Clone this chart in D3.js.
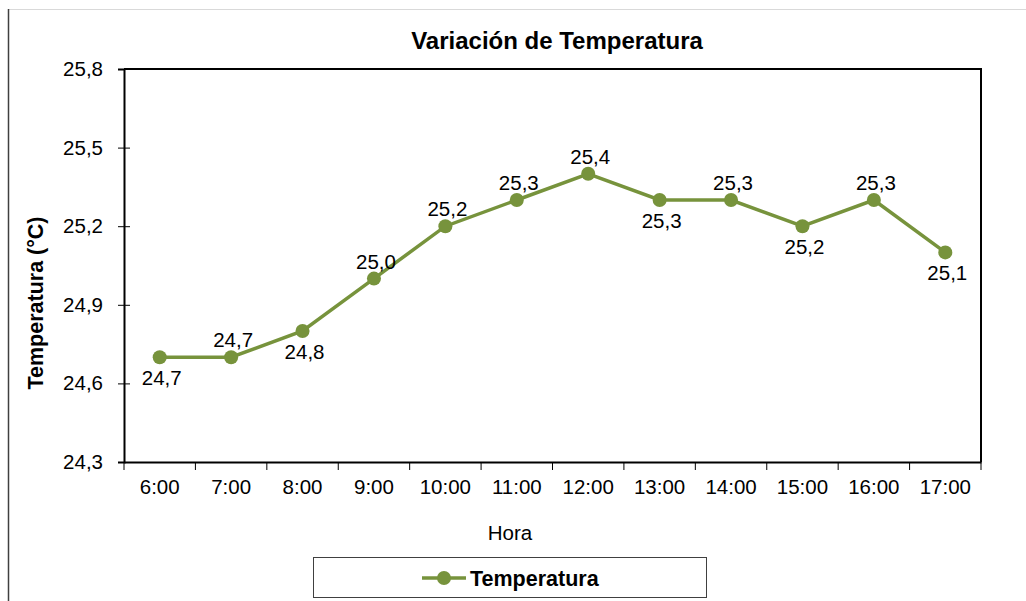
<!DOCTYPE html>
<html>
<head>
<meta charset="utf-8">
<script src="https://cdn.jsdelivr.net/npm/d3@7"></script>
<style>
  body { margin: 0; background: #fff; }
  text { font-family: "Liberation Sans", Arial, sans-serif; }
</style>
</head>
<body>
<div id="chart"></div>
<script>
// data
var horas = ["6:00", "7:00", "8:00", "9:00", "10:00", "11:00", "12:00", "13:00", "14:00", "15:00", "16:00", "17:00"];
var temperatura = [24.7, 24.7, 24.8, 25.0, 25.2, 25.3, 25.4, 25.3, 25.3, 25.2, 25.3, 25.1];
var etiquetaPos = ["below", "above", "below", "above", "above", "above", "above", "below", "above", "below", "above", "below"];
var yTicks = [24.3, 24.6, 24.9, 25.2, 25.5, 25.8];

var W = 1026, H = 601;
var margin = { top: 69, right: 45, bottom: 139, left: 124 },
    width = W - margin.left - margin.right,
    height = H - margin.top - margin.bottom;

var fmt = function (v) { return d3.format(".1f")(v).replace(".", ","); };
var green = "#77933C";

var root = d3.select("#chart").append("svg")
    .attr("width", W)
    .attr("height", H);

// outer chart frame
root.append("line").attr("x1", 8).attr("x2", W).attr("y1", 9.5).attr("y2", 9.5)
    .attr("stroke", "#d9d9d9").attr("stroke-width", 1);
root.append("line").attr("x1", 8.5).attr("x2", 8.5).attr("y1", 9).attr("y2", H)
    .attr("stroke", "#404040").attr("stroke-width", 1.5);

var svg = root.append("g")
    .attr("transform", "translate(" + margin.left + "," + margin.top + ")");

var x = d3.scaleBand().domain(horas).range([0, width]);
var y = d3.scaleLinear().domain([24.3, 25.8]).range([height, 0]);

// plot border (top + right)
svg.append("path")
    .attr("d", "M0,0H" + width + "V" + height)
    .attr("fill", "none").attr("stroke", "#000").attr("stroke-width", 2);

// X axis
var xAxis = svg.append("g")
    .attr("transform", "translate(0," + height + ")")
    .call(d3.axisBottom(x).tickSize(0).tickPadding(17));
xAxis.select(".domain").attr("stroke", "#000").attr("stroke-width", 2);
xAxis.selectAll("text").attr("font-size", 20.5).attr("fill", "#000");
svg.append("g").selectAll("line")
    .data(d3.range(horas.length + 1))
    .enter().append("line")
    .attr("x1", function (i) { return i * x.step(); })
    .attr("x2", function (i) { return i * x.step(); })
    .attr("y1", height).attr("y2", height + 8)
    .attr("stroke", "#000").attr("stroke-width", 1);

// Y axis
var yAxis = svg.append("g")
    .call(d3.axisLeft(y).tickValues(yTicks).tickFormat(fmt).tickSize(6).tickPadding(15));
yAxis.select(".domain").attr("stroke", "#000").attr("stroke-width", 2);
yAxis.selectAll(".tick line").attr("x2", 6).attr("x1", -6).attr("stroke-width", 1);
yAxis.selectAll("text").attr("font-size", 20.5).attr("fill", "#000");

// line
svg.append("path")
    .datum(temperatura)
    .attr("fill", "none")
    .attr("stroke", green)
    .attr("stroke-width", 3.5)
    .attr("d", d3.line()
        .x(function (d, i) { return x(horas[i]) + x.bandwidth() / 2; })
        .y(function (d) { return y(d); }));

// points
svg.append("g").selectAll("circle")
    .data(temperatura)
    .enter().append("circle")
    .attr("cx", function (d, i) { return x(horas[i]) + x.bandwidth() / 2; })
    .attr("cy", function (d) { return y(d); })
    .attr("r", 7)
    .attr("fill", green);

// data labels
svg.append("g").selectAll("text")
    .data(temperatura)
    .enter().append("text")
    .attr("x", function (d, i) { return x(horas[i]) + x.bandwidth() / 2 + 2; })
    .attr("y", function (d, i) { return y(d) + (etiquetaPos[i] === "above" ? -10 : 28); })
    .attr("text-anchor", "middle")
    .attr("font-size", 20.5)
    .attr("fill", "#000")
    .text(function (d) { return fmt(d); });

// title
root.append("text")
    .attr("x", 557).attr("y", 49)
    .attr("text-anchor", "middle")
    .attr("font-size", 24).attr("font-weight", "bold")
    .text("Variación de Temperatura");

// axis titles
root.append("text")
    .attr("transform", "translate(43,303) rotate(-90)")
    .attr("text-anchor", "middle")
    .attr("font-size", 21.5).attr("font-weight", "bold")
    .text("Temperatura (°C)");
root.append("text")
    .attr("x", 510).attr("y", 540)
    .attr("text-anchor", "middle")
    .attr("font-size", 20.5)
    .text("Hora");

// legend
var lg = root.append("g");
lg.append("rect")
    .attr("x", 313.5).attr("y", 557.5).attr("width", 393).attr("height", 40)
    .attr("fill", "#fff").attr("stroke", "#404040").attr("stroke-width", 1);
lg.append("line")
    .attr("x1", 422).attr("x2", 466).attr("y1", 578).attr("y2", 578)
    .attr("stroke", green).attr("stroke-width", 3.5);
lg.append("circle").attr("cx", 444).attr("cy", 578).attr("r", 7).attr("fill", green);
lg.append("text")
    .attr("x", 470).attr("y", 586)
    .attr("font-size", 21.5).attr("font-weight", "bold")
    .text("Temperatura");
</script>
</body>
</html>
